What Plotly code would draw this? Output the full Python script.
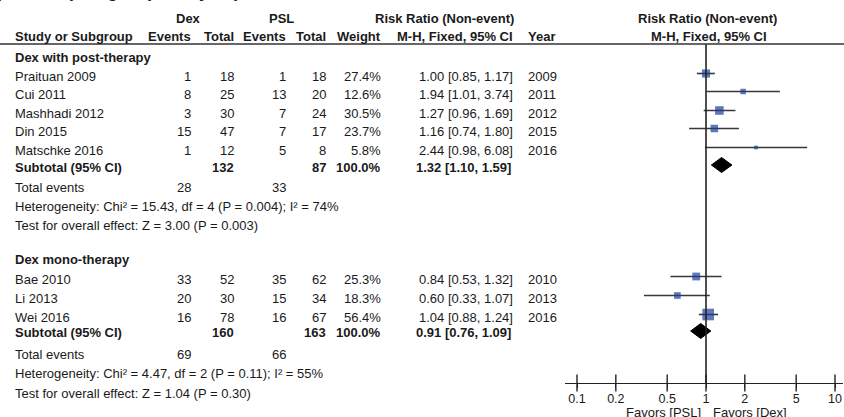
import math
import plotly.graph_objects as go

# ---------------- data ----------------
g1_label = "Dex with post-therapy"
g1_names = ["Praituan 2009", "Cui 2011", "Mashhadi 2012", "Din 2015", "Matschke 2016"]
g1_dex_events = [1, 8, 3, 15, 1]
g1_dex_total = [18, 25, 30, 47, 12]
g1_psl_events = [1, 13, 7, 7, 5]
g1_psl_total = [18, 20, 24, 17, 8]
g1_weight = [27.4, 12.6, 30.5, 23.7, 5.8]
g1_rr = [1.00, 1.94, 1.27, 1.16, 2.44]
g1_lo = [0.85, 1.01, 0.96, 0.74, 0.98]
g1_hi = [1.17, 3.74, 1.69, 1.80, 6.08]
g1_year = [2009, 2011, 2012, 2015, 2016]
g1_sub_totals = [132, 87]
g1_sub_est = [1.32, 1.10, 1.59]
g1_total_events = [28, 33]
g1_het = "Heterogeneity: Chi² = 15.43, df = 4 (P = 0.004); I² = 74%"
g1_test = "Test for overall effect: Z = 3.00 (P = 0.003)"

g2_label = "Dex mono-therapy"
g2_names = ["Bae 2010", "Li 2013", "Wei 2016"]
g2_dex_events = [33, 20, 16]
g2_dex_total = [52, 30, 78]
g2_psl_events = [35, 15, 16]
g2_psl_total = [62, 34, 67]
g2_weight = [25.3, 18.3, 56.4]
g2_rr = [0.84, 0.60, 1.04]
g2_lo = [0.53, 0.33, 0.88]
g2_hi = [1.32, 1.07, 1.24]
g2_year = [2010, 2013, 2016]
g2_sub_totals = [160, 163]
g2_sub_est = [0.91, 0.76, 1.09]
g2_total_events = [69, 66]
g2_het = "Heterogeneity: Chi² = 4.47, df = 2 (P = 0.11); I² = 55%"
g2_test = "Test for overall effect: Z = 1.04 (P = 0.30)"

tick_vals = [0.1, 0.2, 0.5, 1, 2, 5, 10]
tick_text = ["0.1", "0.2", "0.5", "1", "2", "5", "10"]
favors_left = "Favors [PSL]"
favors_right = "Favors [Dex]"

# ---------------- layout constants (pixels) ----------------
W, H = 844, 417
FONT = "Arial, Liberation Sans, sans-serif"
TXT = "#1a1a1a"
SQ = "#1d3d9a"
X_NAME = 13
X_DEX_EV, X_DEX_TOT, X_PSL_EV, X_PSL_TOT, X_W = 193, 236, 288, 328, 383
X_RR = 515
X_YEAR = 526
AX_L, AX_R, ONE = 565, 843, 706
DEC = 129.0
AX_Y = 383

g1_rows = [76, 94, 113, 131, 150]
g1_sub_y, g1_ev_y, g1_het_y, g1_test_y = 167, 187, 206, 225
g2_rows = [279, 298, 317]
g2_sub_y, g2_ev_y, g2_het_y, g2_test_y = 332, 354, 373, 393
MK_OFF = -2.5

annotations = []


def txt(x, y, s, anchor="left", bold=False, size=13, ref="y"):
    if bold:
        s = "<b>" + s + "</b>"
    annotations.append(dict(
        x=x / W, xref="paper", y=y, yref=ref, text=s, showarrow=False,
        xanchor=anchor, yanchor="middle", font=dict(family=FONT, size=size, color=TXT),
    ))


# Cropped title at top edge (only the descenders remain visible)
annotations.append(dict(
    x=-45 / W, xref="paper", y=3, yref="y", text="<b>Comparison (Subgroup analysis)</b>",
    showarrow=False, xanchor="left", yanchor="bottom",
    font=dict(family=FONT, size=18, color=TXT),
))

# Headers
txt(188, 18, "Dex", "center", True)
txt(281, 18, "PSL", "center", True)
txt(444, 18, "Risk Ratio (Non-event)", "center", True)
txt(707, 18, "Risk Ratio (Non-event)", "center", True)
txt(X_NAME, 36, "Study or Subgroup", "left", True)
txt(X_DEX_EV, 36, "Events", "right", True)
txt(X_DEX_TOT, 36, "Total", "right", True)
txt(X_PSL_EV, 36, "Events", "right", True)
txt(X_PSL_TOT, 36, "Total", "right", True)
txt(X_W, 36, "Weight", "right", True)
txt(X_RR, 36, "M-H, Fixed, 95% CI", "right", True)
txt(X_YEAR, 36, "Year", "left", True)
txt(709, 36, "M-H, Fixed, 95% CI", "center", True)


def group(label, label_y, names, de, dt, pe, pt, wt, rr, lo, hi, yr, rows,
          sub_tot, sub_est, tot_ev, het, test, sub_y, ev_y, het_y, test_y):
    txt(X_NAME, label_y, label, "left", True)
    for i, n in enumerate(names):
        y = rows[i]
        txt(X_NAME, y, n)
        txt(X_DEX_EV, y, str(de[i]), "right")
        txt(X_DEX_TOT, y, str(dt[i]), "right")
        txt(X_PSL_EV, y, str(pe[i]), "right")
        txt(X_PSL_TOT, y, str(pt[i]), "right")
        txt(X_W, y, f"{wt[i]:.1f}%", "right")
        txt(X_RR, y, f"{rr[i]:.2f} [{lo[i]:.2f}, {hi[i]:.2f}]", "right")
        txt(X_YEAR, y, str(yr[i]), "left")
    txt(X_NAME, sub_y, "Subtotal (95% CI)", "left", True)
    txt(X_DEX_TOT, sub_y, str(sub_tot[0]), "right", True)
    txt(X_PSL_TOT, sub_y, str(sub_tot[1]), "right", True)
    txt(X_W, sub_y, "100.0%", "right", True)
    txt(X_RR - 2, sub_y, f"{sub_est[0]:.2f} [{sub_est[1]:.2f}, {sub_est[2]:.2f}]", "right", True)
    txt(X_NAME, ev_y, "Total events")
    txt(X_DEX_EV, ev_y, str(tot_ev[0]), "right")
    txt(X_PSL_EV, ev_y, str(tot_ev[1]), "right")
    txt(X_NAME, het_y, het)
    txt(X_NAME, test_y, test)


group(g1_label, 57, g1_names, g1_dex_events, g1_dex_total, g1_psl_events, g1_psl_total,
      g1_weight, g1_rr, g1_lo, g1_hi, g1_year, g1_rows, g1_sub_totals, g1_sub_est,
      g1_total_events, g1_het, g1_test, g1_sub_y, g1_ev_y, g1_het_y, g1_test_y)
group(g2_label, 259, g2_names, g2_dex_events, g2_dex_total, g2_psl_events, g2_psl_total,
      g2_weight, g2_rr, g2_lo, g2_hi, g2_year, g2_rows, g2_sub_totals, g2_sub_est,
      g2_total_events, g2_het, g2_test, g2_sub_y, g2_ev_y, g2_het_y, g2_test_y)

# Favors labels
txt(703, 412, favors_left, "right")
txt(711, 412, favors_right, "left")

fig = go.Figure()

# CI lines
lx, ly = [], []
for lo, hi, rows in [(g1_lo, g1_hi, g1_rows), (g2_lo, g2_hi, g2_rows)]:
    for i in range(len(lo)):
        y = rows[i] + MK_OFF
        lx += [lo[i], hi[i], None]
        ly += [y, y, None]
fig.add_trace(go.Scatter(x=lx, y=ly, mode="lines", line=dict(color="#383838", width=1.6),
                         hoverinfo="skip", showlegend=False))

# Squares
sx = g1_rr + g2_rr
sy = [r + MK_OFF for r in g1_rows + g2_rows]
ss = [1.55 * math.sqrt(w) for w in g1_weight + g2_weight]
fig.add_trace(go.Scatter(x=sx, y=sy, mode="markers",
                         marker=dict(symbol="square", size=ss, color=SQ, line=dict(width=0)),
                         hoverinfo="skip", showlegend=False))

# Diamonds
for est, yc in [(g1_sub_est, g1_sub_y - 2), (g2_sub_est, g2_sub_y - 1)]:
    fig.add_trace(go.Scatter(
        x=[est[1], est[0], est[2], est[0], est[1]],
        y=[yc, yc - 7.5, yc, yc + 7.5, yc],
        mode="lines", fill="toself", fillcolor="black", line=dict(color="black", width=1),
        hoverinfo="skip", showlegend=False))

# Line of no effect
fig.add_trace(go.Scatter(x=[1, 1], y=[44, AX_Y], mode="lines",
                         line=dict(color="#222222", width=1.6), hoverinfo="skip", showlegend=False))

# Upper half of the axis ticks
fig.add_trace(go.Scatter(x=tick_vals, y=[AX_Y] * len(tick_vals), mode="markers",
                         marker=dict(symbol="line-ns", size=12, line=dict(color="#222222", width=1.4)),
                         hoverinfo="skip", showlegend=False))

xl = (AX_L - ONE) / DEC
xr = (AX_R - ONE) / DEC

fig.update_layout(
    width=W, height=H, margin=dict(l=0, r=0, t=0, b=0),
    paper_bgcolor="white", plot_bgcolor="rgba(0,0,0,0)",
    annotations=annotations,
    shapes=[dict(type="line", xref="paper", yref="y", x0=0, x1=1, y0=44, y1=44,
                 line=dict(color="#333333", width=1.6))],
    xaxis=dict(type="log", domain=[AX_L / W, AX_R / W], range=[xl, xr],
               anchor="free", position=(H - AX_Y) / H, showline=True, linecolor="#222222",
               linewidth=1.4, ticks="outside", ticklen=4, tickwidth=1.4, tickcolor="#222222",
               tickmode="array", tickvals=tick_vals, ticktext=tick_text,
               tickfont=dict(family=FONT, size=12.5, color=TXT), showgrid=False, zeroline=False),
    yaxis=dict(range=[H, 0], domain=[0, 1], visible=False, showgrid=False, zeroline=False),
)

fig.write_html(
    "out.html",
    config={"displayModeBar": False},
    post_script="document.body.style.margin='0';document.body.style.overflow='hidden';",
)
